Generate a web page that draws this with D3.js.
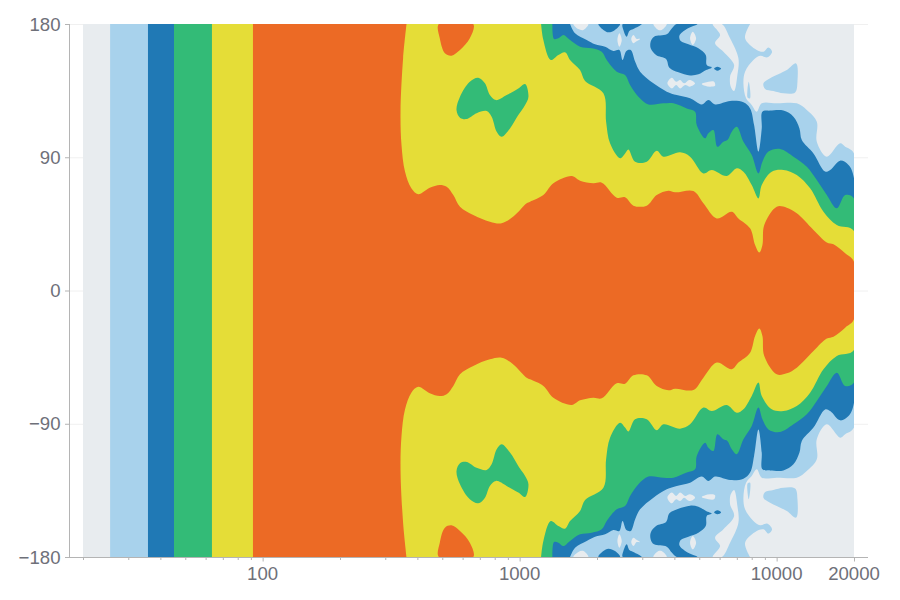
<!DOCTYPE html>
<html><head><meta charset="utf-8">
<script src="https://cdn.jsdelivr.net/npm/d3@7"></script>
<style>html,body{margin:0;padding:0;background:#fff}svg{display:block}text{font-family:"Liberation Sans",Arial,sans-serif}</style>
</head><body><svg id="c" width="900" height="600"></svg>
<script>
const angleTicks = [-180,-90,0,90,180];
const freqLabels = [100,1000,10000,20000];
const minorFreqs = [20,30,40,50,60,70,80,90,100,200,300,400,500,600,700,800,900,1000,2000,3000,4000,5000,6000,7000,8000,9000,10000,20000];
const levelColors = {gray:"#e8ecef",light:"#a8d2ec",blue:"#2079b5",green:"#33bb77",yellow:"#e5dd37",orange:"#ec6a25"};

// Upper-half contour boundaries [Hz, degrees]; the pattern is symmetric about 0 degrees.
const lightBand = [[25.5,180],[7883,180],[7537,170.3],[8368,162.4],[8883,161.3],[9290,164.2],[9600,161.3],[9210,157.5],[8622,158.6],[8122,155.7],[7537,147.8],[7426,139.9],[7605,129.8],[8000,125.3],[8368,120.8],[8750,126.4],[10012,126.4],[11978,126.4],[13102,121.9],[14331,114],[14331,100.5],[15675,90.4],[17666,99.4],[18480,97.1],[20000,92.6]];
const grayHoles = [
 [[1619,180],[1851,180],[1770,176],[1693,176.6]],
 [[3315,180],[3736,180],[3570,176],[3467,176]],
 [[5640,180],[6025,172.6],[5760,167],[6207,161.3],[6830,152.3],[6589,144.4],[6630,137.7],[6830,134.7],[7036,145.5],[7100,156.8],[6589,170.3],[6116,180]],
 [[2444,173.7],[2496,169.2],[2444,164.7],[2402,169.2]],
 [[2718,169.9],[2771,172.6],[2855,169.9],[2942,169.9],[2838,168.1],[2771,167]],
 [[4716,174.8],[4860,170.3],[4716,165.8],[4604,170.3]],
 [[3758,139.9],[3908,143.7],[4066,141],[4210,142.2],[4363,139.9],[4575,142.2],[4815,139.9],[4604,137.7],[4403,138.8],[4210,136.5],[4066,138.8],[3908,136.5]],
 [[5112,139.5],[5427,141],[5710,141],[5760,138.3],[5508,137.7],[5267,138.3]]
];
const lightIslands = [
 [[7698,135.4],[7790,141],[7883,129.8],[7720,130.2]],
 [[8883,139.9],[9431,143.3],[10951,148.9],[11907,153.4],[12050,141],[11800,133.8],[10628,133.2],[9717,134.7],[9017,136.1]]
];
const blueBand = [[35.8,180],[1571,180],[1643,173.7],[1824,169.2],[1965,166.3],[2150,164.7],[2316,161.8],[2444,162.4],[2514,155.7],[2603,161.8],[2706,162.4],[2813,154.6],[2942,147.8],[3315,139.9],[3736,134.3],[4086,132],[4604,129.8],[5112,125.7],[5427,128.7],[5760,125.7],[6589,128],[7426,127.1],[7883,123],[8170,111.8],[8495,93.8],[8750,109.5],[8805,120.8],[9431,121.5],[10628,121.5],[11625,117.4],[12270,109.5],[12530,101.6],[13909,92.6],[15440,80.3],[16151,81.4],[17666,87.7],[19040,84.8],[20000,75.8]];
const blueIslands = [
 [[3236,168.1],[3335,171.4],[3736,173],[3908,177],[4086,180],[4918,180],[4469,176.6],[4185,172.1],[4235,168.5],[4537,166.3],[4961,163.6],[5299,159.1],[5346,152.3],[5590,150.7],[5315,148.9],[4961,146],[4604,145.3],[4148,147.4],[3826,150.5],[3713,156.4],[3395,159.1],[3236,163.6]],
 [[5710,150],[5882,151.2],[6080,150],[5882,148.5]],
 [[2025,180],[2459,180],[2350,176],[2215,174.4],[2118,176]],
 [[2518,180],[2986,180],[2771,176.6],[2673,175.3],[2610,171.4],[2534,176]]
];
const greenBand = [[45.2,180],[1341,180],[1361,169.9],[1415,170.3],[1480,172.6],[1571,169.2],[1718,164.7],[1907,163.6],[2087,161.3],[2182,155.7],[2387,147.8],[2572,145.5],[2690,138.8],[2898,130.9],[3170,125.7],[3626,126.4],[3966,126.4],[4469,123],[4815,120.8],[4888,111.8],[5267,102.8],[5427,106.2],[5675,108.4],[5882,97.1],[6207,100.5],[6435,101.6],[6690,107.3],[6995,110.6],[7426,100.5],[8000,91.5],[8495,79.1],[8805,87],[9290,93.8],[10315,95.6],[11625,90.4],[13102,83.6],[14331,74.6],[15675,64.5],[17146,55.5],[18480,64.5],[20000,62.2]];
const yellowBand = [[63.5,180],[1212,180],[1237,169.2],[1321,155.7],[1415,159.1],[1502,160.9],[1571,155.7],[1718,148.9],[1797,141.5],[2118,133.2],[2170,114],[2248,99.4],[2459,89.3],[2572,92.6],[2650,95.3],[2813,87],[3123,87],[3415,94.4],[3626,90.4],[4210,93.3],[4604,90.4],[5189,79.1],[5590,81.4],[6396,77.3],[6995,82.5],[7426,80.2],[8000,71.2],[8495,62.2],[8750,71.2],[9570,80.2],[10628,81.4],[11978,78],[13499,69],[15214,53.2],[17146,44.2],[20000,40.2]];
const greenIslands = [
 [[568,121.9],[586,130.9],[640,141],[690,143.7],[733,139.9],[766,132],[809,128.6],[890,132],[988,136.5],[1050,139.5],[1082,130.9],[1050,125.3],[988,118.5],[917,109.5],[851,103.9],[814,107.3],[778,117.4],[744,121.2],[680,119.7],[622,115.8],[586,116.7]]
];
const orangeBand = [[91.7,180],[363,180],[352,156.8],[344,120.8],[347,98.3],[358,80.3],[379,69],[403,65],[447,69.4],[489,71.3],[520,70.1],[552,64.5],[586,56.6],[660,51],[766,46.5],[851,45.4],[945,49.9],[1065,58.9],[1098,60],[1237,64.5],[1353,72.4],[1595,77.3],[1718,74.2],[1936,72.4],[2087,72.8],[2387,62.7],[2572,62.9],[2771,57.3],[3123,57.3],[3415,64.5],[3792,67.4],[4026,66.3],[4744,67.2],[5189,58.9],[5847,48.7],[6690,53.2],[7100,48.7],[7883,42],[8245,30.7],[8562,25.6],[8805,30.7],[8950,44.2],[10012,56.6],[10951,55.9],[11978,52.1],[13909,40.9],[15675,32.5],[16641,31.2],[18480,25.1],[20000,19.5]];
const orangeIslands = [
 [[485,180],[489,170.3],[512,160.2],[543,158.6],[586,162.4],[640,170.3],[660,180]]
];

const svg = d3.select("#c");
const x = d3.scaleLog().domain([20,20000]).range([83,854]);
const y = d3.scaleLinear().domain([-180,180]).range([557,24]);
const axisColor = "#b4b4b4", labelColor = "#6e7079";

svg.append("defs").append("clipPath").attr("id","plotClip").append("rect")
  .attr("x",x(20)).attr("y",y(180)).attr("width",x(20000)-x(20)).attr("height",y(-180)-y(180));

// axis-overhang gridlines
svg.append("g").selectAll("line").data(angleTicks).join("line")
  .attr("x1",69).attr("x2",868).attr("y1",d=>y(d)+.5).attr("y2",d=>y(d)+.5)
  .attr("stroke","#f0f0f0").attr("stroke-width",1);

const closedLine = d3.line().x(d=>x(d[0])).y(d=>y(d[1])).curve(d3.curveCatmullRomClosed.alpha(0.5));
const openLine = d3.line().x(d=>x(d[0])).y(d=>y(d[1])).curve(d3.curveCatmullRom.alpha(0.5));
const straight = d3.line().x(d=>x(d[0])).y(d=>y(d[1]));
const plot = svg.append("g").attr("clip-path","url(#plotClip)");
const path = (d,c)=>plot.append("path").attr("d",d).attr("fill",c);
const band = (pts,c)=>{
  // straight left edge at the first frequency; smooth contour from the top edge round the mirrored side
  const contour = pts.slice(1);
  const full = contour.concat(contour.slice().reverse().map(p=>[p[0],-p[1]]));
  const left = pts[0][0];
  const tail = straight([[left,-180],[left,180]]).replace("M","L");
  path(openLine(full)+tail+"Z",c);
};
const islands = (list,c)=>list.forEach(p=>{
  path(closedLine(p),c);
  path(closedLine(p.map(q=>[q[0],-q[1]])),c);
});

path(straight([[20,180],[20000,180],[20000,-180],[20,-180]])+"Z",levelColors.gray);
band(lightBand,levelColors.light);
islands(grayHoles,levelColors.gray);
islands(lightIslands,levelColors.light);
band(blueBand,levelColors.blue);
islands(blueIslands,levelColors.blue);
band(greenBand,levelColors.green);
band(yellowBand,levelColors.yellow);
islands(greenIslands,levelColors.green);
band(orangeBand,levelColors.orange);
islands(orangeIslands,levelColors.orange);

// y axis
const ya = svg.append("g");
ya.append("line").attr("x1",69.5).attr("x2",69.5).attr("y1",24).attr("y2",557).attr("stroke",axisColor);
ya.selectAll("line.t").data(angleTicks).join("line").attr("class","t")
  .attr("x1",65).attr("x2",69.5).attr("y1",d=>y(d)+.5).attr("y2",d=>y(d)+.5).attr("stroke",axisColor);
ya.selectAll("text").data(angleTicks).join("text")
  .attr("x",60.5).attr("y",d=>y(d)).attr("dy","0.35em").attr("text-anchor","end")
  .attr("font-size",18.6).attr("fill",labelColor).text(d=>d3.format("d")(d).replace("-","\u2212"));

// x axis
const xa = svg.append("g");
xa.append("line").attr("x1",69).attr("x2",868).attr("y1",557.5).attr("y2",557.5).attr("stroke",axisColor);
xa.selectAll("line.t").data(minorFreqs).join("line").attr("class","t")
  .attr("x1",d=>x(d)+.5).attr("x2",d=>x(d)+.5).attr("y1",557.5)
  .attr("y2",d=>freqLabels.includes(d)?561.5:560).attr("stroke",axisColor);
xa.selectAll("text").data(freqLabels).join("text")
  .attr("x",d=>x(d)).attr("y",579.5).attr("text-anchor","middle")
  .attr("font-size",18.6).attr("fill",labelColor).text(d=>d);
</script></body></html>
